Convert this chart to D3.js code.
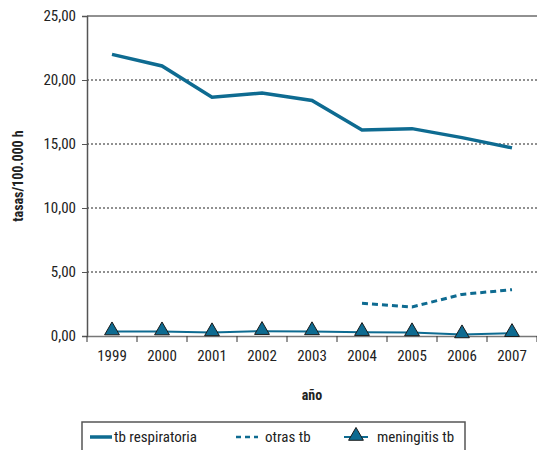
<!DOCTYPE html>
<html><head><meta charset="utf-8">
<script src="https://cdn.jsdelivr.net/npm/d3@7"></script>
<style>
body{margin:0;background:#fff;}
svg text{font-family:"Liberation Sans Narrow","Arial Narrow","Roboto Condensed",sans-serif;font-stretch:condensed;fill:#222;}
</style></head>
<body><svg id="c" width="537" height="450"></svg>
<script>
const years = ["1999","2000","2001","2002","2003","2004","2005","2006","2007"];
const tbRespiratoria = [22.0, 21.1, 18.65, 18.98, 18.4, 16.1, 16.2, 15.5, 14.7];
const otrasTb = [null, null, null, null, null, 2.55, 2.27, 3.25, 3.62];
const meningitisTb = [0.35, 0.35, 0.28, 0.38, 0.36, 0.3, 0.28, 0.12, 0.22];
const yTicks = [0, 5, 10, 15, 20, 25];
const legendLabels = ["tb respiratoria", "otras tb", "meningitis tb"];

const color = "#0e6b91";
const svg = d3.select("#c");
const x = d3.scaleBand().domain(years).range([87, 537]);
const y = d3.scaleLinear().domain([0, 25]).range([336, 16]);
const fmt = v => d3.format(".2f")(v).replace(".", ",");

// gridlines
svg.append("g").selectAll("line").data(yTicks.filter(t => t > 0)).join("line")
  .attr("x1", 87).attr("x2", 537).attr("y1", d => y(d)).attr("y2", d => y(d))
  .attr("stroke", "#222").attr("stroke-width", 1)
  .attr("stroke-dasharray", d => d === 25 ? null : "2,2");

// y axis
const ya = svg.append("g").attr("transform", "translate(87,0)")
  .call(d3.axisLeft(y).tickValues(yTicks).tickFormat(fmt).tickSize(5).tickPadding(6));
ya.select(".domain").attr("stroke", "#555").attr("stroke-width", 1.5);
ya.selectAll(".tick line").attr("stroke", "#555");
ya.selectAll("text").attr("font-size", 15).style("fill", "#222");

// x axis
const xa = svg.append("g").attr("transform", "translate(0,336)")
  .call(d3.axisBottom(x).tickSize(0).tickPadding(14));
xa.select(".domain").attr("stroke", "#777").attr("stroke-width", 1.5);
xa.selectAll("text").attr("font-size", 15).style("fill", "#222");
svg.append("g").selectAll("line").data(years.concat(["end"]).map((d, i) => 87 + i * x.bandwidth())).join("line")
  .attr("x1", d => d).attr("x2", d => d).attr("y1", 336).attr("y2", 342)
  .attr("stroke", "#333").attr("stroke-width", 1);

const cx = d => x(d) + x.bandwidth() / 2;

// series
const line = d3.line().defined(d => d[1] != null).x(d => cx(d[0])).y(d => y(d[1]));
svg.append("path").datum(years.map((d, i) => [d, tbRespiratoria[i]]))
  .attr("d", line).attr("fill", "none").attr("stroke", color).attr("stroke-width", 3.5);
svg.append("path").datum(years.map((d, i) => [d, otrasTb[i]]))
  .attr("d", line).attr("fill", "none").attr("stroke", color).attr("stroke-width", 3).attr("stroke-dasharray", "6,4");
svg.append("path").datum(years.map((d, i) => [d, meningitisTb[i]]))
  .attr("d", line).attr("fill", "none").attr("stroke", color).attr("stroke-width", 2);
const tri = d3.symbol().type(d3.symbolTriangle).size(95);
svg.append("g").selectAll("path").data(years.map((d, i) => [d, meningitisTb[i]])).join("path")
  .attr("d", tri).attr("transform", d => `translate(${cx(d[0])},${y(d[1]) - 1})`)
  .attr("fill", color).attr("stroke", "#1a1a1a").attr("stroke-width", 1);

// axis titles
svg.append("text").attr("x", 312).attr("y", 400).attr("text-anchor", "middle")
  .attr("font-size", 14).attr("font-weight", "bold").text("año");
svg.append("text").attr("transform", "translate(23,176) rotate(-90)").attr("text-anchor", "middle")
  .attr("font-size", 14).attr("font-weight", "bold").text("tasas/100.000 h");

// legend
svg.append("rect").attr("x", 82).attr("y", 422).attr("width", 383).attr("height", 40)
  .attr("fill", "none").attr("stroke", "#555").attr("stroke-width", 1.5);
const lg = svg.append("g");
lg.append("line").attr("x1", 90).attr("x2", 112).attr("y1", 437).attr("y2", 437).attr("stroke", color).attr("stroke-width", 3.5);
lg.append("text").attr("x", 114).attr("y", 442).attr("font-size", 15).text(legendLabels[0]);
lg.append("line").attr("x1", 236).attr("x2", 258).attr("y1", 437).attr("y2", 437).attr("stroke", color).attr("stroke-width", 2.5).attr("stroke-dasharray", "5,4");
lg.append("text").attr("x", 265).attr("y", 442).attr("font-size", 15).text(legendLabels[1]);
lg.append("line").attr("x1", 344).attr("x2", 368).attr("y1", 437).attr("y2", 437).attr("stroke", color).attr("stroke-width", 2);
lg.append("path").attr("d", tri).attr("transform", "translate(356,436)").attr("fill", color).attr("stroke", "#1a1a1a");
lg.append("text").attr("x", 377).attr("y", 442).attr("font-size", 15).text(legendLabels[2]);
</script></body></html>
